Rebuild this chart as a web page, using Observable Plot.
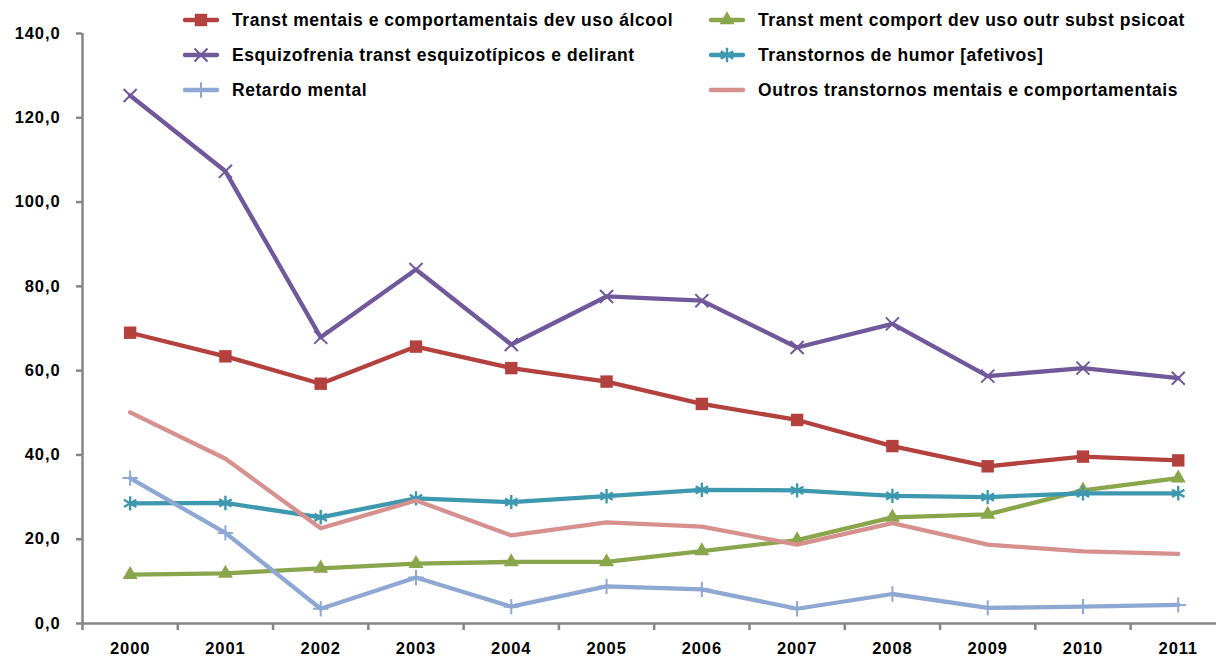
<!DOCTYPE html>
<html><head><meta charset="utf-8">
<script src="https://cdn.jsdelivr.net/npm/d3@7"></script>
<script src="https://cdn.jsdelivr.net/npm/@observablehq/plot@0.6"></script>
<style>
body{margin:0;background:#fff;}
#wrap{position:relative;width:1216px;height:659px;font-family:"Liberation Sans",Arial,sans-serif;}
.leg{position:absolute;display:flex;align-items:center;font-weight:bold;font-size:17.5px;letter-spacing:0.55px;white-space:nowrap;color:#000;}
.leg svg{margin-right:13px;}
</style></head><body><div id="wrap"></div><script>
const years = [2000, 2001, 2002, 2003, 2004, 2005, 2006, 2007, 2008, 2009, 2010, 2011];
const yTicks = [0, 20, 40, 60, 80, 100, 120, 140];

const alcool  = [69.0, 63.4, 56.9, 65.7, 60.6, 57.4, 52.1, 48.3, 42.1, 37.3, 39.6, 38.7];
const psicoat = [11.6, 11.9, 13.1, 14.2, 14.6, 14.6, 17.2, 19.8, 25.2, 25.9, 31.6, 34.5];
const esquizo = [125.3, 107.3, 67.9, 84.0, 66.2, 77.6, 76.6, 65.5, 71.1, 58.7, 60.6, 58.2];
const humor   = [28.5, 28.6, 25.2, 29.7, 28.8, 30.2, 31.7, 31.6, 30.3, 30.0, 30.9, 30.9];
const retardo = [34.5, 21.5, 3.5, 10.9, 4.0, 8.8, 8.1, 3.5, 7.0, 3.7, 4.0, 4.4];
const outros  = [50.1, 39.1, 22.6, 29.2, 20.9, 24.0, 23.0, 18.7, 23.8, 18.7, 17.1, 16.5];

const seriesNames = [
  "Transt mentais e comportamentais dev uso álcool",
  "Transt ment comport dev uso outr subst psicoat",
  "Esquizofrenia transt esquizotípicos e delirant",
  "Transtornos de humor [afetivos]",
  "Retardo mental",
  "Outros transtornos mentais e comportamentais"
];
const seriesValues = [alcool, psicoat, esquizo, humor, retardo, outros];
const seriesColors = ["#B3413E", "#8AA64D", "#71589A", "#3E98AF", "#8EA8D3", "#D6918F"];
const symbolList = ["square", "triangle2", "times", "asterisk", "plus", null];
const filled = [true, true, false, false, false, false];
const symR = [7.0, 7.2, 6.0, 6.8, 5.0, 0];
const symW = [0, 0, 2, 2.4, 2, 0];

const gray = "#868686";
const fmt = d => d.toFixed(1).replace(".", ",");
const boundaries = d3.range(1999.5, 2011, 1);

const marks = [];
seriesNames.forEach((name, s) => {
  const rows = years.map((yr, i) => ({year: yr, value: seriesValues[s][i]}));
  marks.push(Plot.line(rows, {x: "year", y: "value", stroke: seriesColors[s], strokeWidth: 4.3, strokeLinejoin: "round", strokeLinecap: "round"}));
  if (symbolList[s]) {
    if (filled[s]) {
      marks.push(Plot.dot(rows, {x: "year", y: "value", symbol: symbolList[s], r: symR[s], fill: seriesColors[s], stroke: "none"}));
    } else {
      marks.push(Plot.dot(rows, {x: "year", y: "value", symbol: symbolList[s], r: symR[s], stroke: seriesColors[s], strokeWidth: symW[s], fill: "none"}));
    }
  }
});

const chart = Plot.plot({
  width: 1216,
  height: 659,
  marginLeft: 82,
  marginRight: 0,
  marginTop: 33,
  marginBottom: 36,
  style: {fontFamily: "'Liberation Sans', Arial, sans-serif", fontSize: "16px", fontWeight: "bold", background: "#fff", color: "#000"},
  x: {type: "linear", domain: [1999.5, 2011.5], range: [82, 1225.4], label: null},
  y: {domain: [0, 140], label: null},
  marks: [
    Plot.axisY({ticks: yTicks, tickSize: 6, tickPadding: 16, tickFormat: fmt, stroke: gray, strokeWidth: 2.5, fill: "#000", label: null}),
    Plot.axisX({ticks: boundaries, tickSize: 7, tickFormat: () => "", stroke: gray, strokeWidth: 2.5, label: null}),
    Plot.axisX({ticks: years, tickSize: 0, tickPadding: 19, tickFormat: d3.format("d"), fill: "#000", label: null}),
    Plot.ruleX([1999.5], {stroke: gray, strokeWidth: 2.5}),
    Plot.ruleY([0], {stroke: gray, strokeWidth: 2.5}),
    ...marks
  ]
});
d3.select(chart).selectAll("text")
  .style("font-size", "16.5px")
  .style("font-weight", "bold")
  .style("letter-spacing", "0.9px");

const wrap = document.getElementById("wrap");
wrap.appendChild(chart);

// Legend (two columns, three rows) overlaid on the chart
const legendOrder = [0, 2, 4, 1, 3, 5];
const colLeft = [183, 709];
const rowCenter = [20, 55, 90];
const symMap = {square: d3.symbolSquare, triangle2: d3.symbolTriangle2, times: d3.symbolTimes, asterisk: d3.symbolAsterisk, plus: d3.symbolPlus};
legendOrder.forEach((s, k) => {
  const col = Math.floor(k / 3), row = k % 3;
  const div = document.createElement("div");
  div.className = "leg";
  div.style.left = colLeft[col] + "px";
  div.style.top = (rowCenter[row] - 11) + "px";
  div.style.height = "22px";
  const sw = d3.create("svg").attr("width", 36).attr("height", 22);
  sw.append("line").attr("x1", 2).attr("x2", 34).attr("y1", 11).attr("y2", 11)
    .attr("stroke", seriesColors[s]).attr("stroke-width", 4.3).attr("stroke-linecap", "round");
  if (symbolList[s]) {
    const p = d3.symbol(symMap[symbolList[s]], symR[s] * symR[s] * Math.PI)();
    const path = sw.append("path").attr("d", p).attr("transform", "translate(18,11)");
    if (filled[s]) path.attr("fill", seriesColors[s]);
    else path.attr("fill", "none").attr("stroke", seriesColors[s]).attr("stroke-width", symW[s]);
  }
  div.appendChild(sw.node());
  const span = document.createElement("span");
  span.textContent = seriesNames[s];
  div.appendChild(span);
  wrap.appendChild(div);
});
</script></body></html>
